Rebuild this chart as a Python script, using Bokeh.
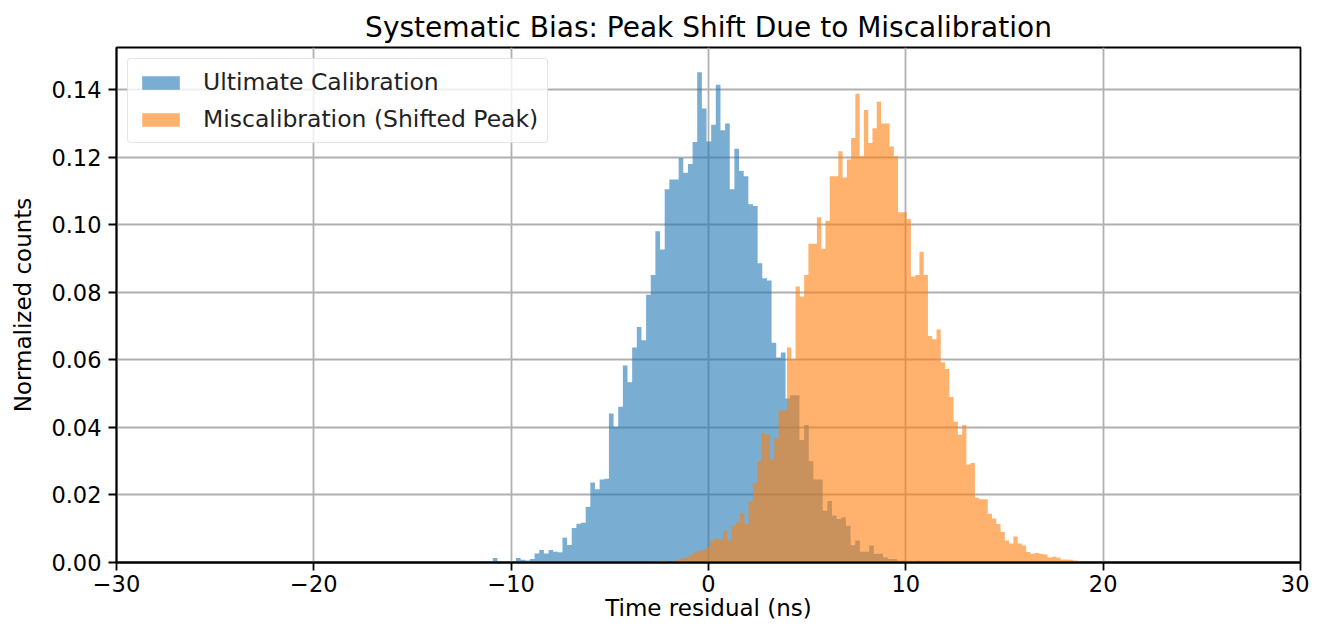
from bokeh.plotting import figure
from bokeh.models import Range1d, FixedTicker, CustomJSTickFormatter, Legend, LegendItem
from bokeh.embed import file_html
from bokeh.resources import INLINE

# ---- data (normalized histogram heights) ----
blue_label = "Ultimate Calibration"
orange_label = "Miscalibration (Shifted Peak)"

blue_start = -11.64     # first bin edge (ns)
blue_width = 0.2355     # bin width (ns)
blue_counts = [
    0.0003, 0.0003, 0.0003, 0.0013, 0.0, 0.0, 0.0, 0.0, 0.0013, 0.0008,
    0.0006, 0.0010, 0.0027, 0.0037, 0.0027, 0.0037, 0.0032, 0.0030, 0.0073, 0.0052,
    0.0102, 0.0115, 0.0118, 0.0164, 0.0237, 0.0217, 0.0246, 0.0248, 0.0441, 0.0402,
    0.0461, 0.0583, 0.0534, 0.0637, 0.0697, 0.0658, 0.0793, 0.0851, 0.0981, 0.0927,
    0.1105, 0.1134, 0.1134, 0.1198, 0.1154, 0.1180, 0.1245, 0.1452, 0.1344, 0.1247,
    0.1296, 0.1415, 0.1280, 0.1300, 0.1105, 0.1225, 0.1159, 0.1144, 0.1061, 0.1056,
    0.0886, 0.0842, 0.0835, 0.0651, 0.0607, 0.0622, 0.0486, 0.0495, 0.0495, 0.0363,
    0.0407, 0.0300, 0.0246, 0.0246, 0.0153, 0.0182, 0.0139, 0.0129, 0.0134, 0.0109,
    0.0051, 0.0065, 0.0032, 0.0032, 0.0050, 0.0026, 0.0026, 0.0015, 0.0010, 0.0010,
    0.0005, 0.0005, 0.0, 0.0, 0.0005, 0.0, 0.0, 0.0, 0.0, 0.0004,
]

orange_start = -2.728
orange_width = 0.2164
orange_counts = [
    0.0003, 0.0005, 0.0005, 0.0, 0.0003, 0.0008, 0.0012, 0.0015, 0.0023, 0.0030,
    0.0034, 0.0036, 0.0045, 0.0065, 0.0070, 0.0068, 0.0095, 0.0065, 0.0109, 0.0119,
    0.0146, 0.0114, 0.0182, 0.0236, 0.0300, 0.0383, 0.0380, 0.0305, 0.0368, 0.0450,
    0.0451, 0.0637, 0.0602, 0.0817, 0.0788, 0.0851, 0.0944, 0.0944, 0.1022, 0.0929,
    0.1012, 0.1144, 0.1144, 0.1218, 0.1140, 0.1193, 0.1257, 0.1388, 0.1203, 0.1340,
    0.1242, 0.1286, 0.1364, 0.1300, 0.1300, 0.1232, 0.1203, 0.1037, 0.1037, 0.1017,
    0.0847, 0.0851, 0.0920, 0.0851, 0.0671, 0.0661, 0.0690, 0.0593, 0.0573, 0.0490,
    0.0417, 0.0378, 0.0407, 0.0290, 0.0295, 0.0192, 0.0187, 0.0187, 0.0144, 0.0130,
    0.0114, 0.0090, 0.0065, 0.0056, 0.0077, 0.0056, 0.0050, 0.0031, 0.0026, 0.0028,
    0.0026, 0.0024, 0.0015, 0.0017, 0.0015, 0.0009, 0.0009, 0.0008, 0.0006, 0.0004,
]

x_ticks = [-30, -20, -10, 0, 10, 20, 30]
y_ticks = [0.0, 0.02, 0.04, 0.06, 0.08, 0.10, 0.12, 0.14]

title_text = "Systematic Bias: Peak Shift Due to Miscalibration"
x_label = "Time residual (ns)"
y_label = "Normalized counts"

# ---- figure ----
FONT = "DejaVu Sans"
p = figure(width=1309, height=623, output_backend="svg", toolbar_location=None,
           x_range=Range1d(-30, 30), y_range=Range1d(0, 0.1525),
           min_border_left=116, min_border_right=9, min_border_top=47, min_border_bottom=59)

p.title.text = title_text
p.title.align = "center"
p.title.text_font = FONT
p.title.text_font_size = "28px"
p.title.text_font_style = "normal"
p.title.text_color = "black"
p.title.standoff = 8


def step_outline(start, width, counts):
    """Histogram outline (stepped polygon) from bin start, width and heights."""
    xs, ys = [start], [0.0]
    for i, c in enumerate(counts):
        l = start + width * i
        r = l + width
        xs += [l, r]
        ys += [c, c]
    xs.append(start + width * len(counts))
    ys.append(0.0)
    return xs, ys


bx, by = step_outline(blue_start, blue_width, blue_counts)
ox, oy = step_outline(orange_start, orange_width, orange_counts)

r_blue = p.patch(x=bx, y=by, fill_color="#1f77b4", fill_alpha=0.6, line_color=None)
r_orange = p.patch(x=ox, y=oy, fill_color="#ff7f0e", fill_alpha=0.6, line_color=None)

legend = Legend(items=[LegendItem(label=blue_label, renderers=[r_blue]),
                       LegendItem(label=orange_label, renderers=[r_orange])],
                location="top_left")
legend.label_text_font = FONT
legend.label_text_font_size = "23.5px"
legend.label_text_color = "#222222"
legend.label_height = 24
legend.glyph_width = 47
legend.glyph_height = 17
legend.label_standoff = 19
legend.padding = 9
legend.spacing = 9
legend.margin = 11
legend.border_line_color = "#cccccc"
legend.border_line_width = 1.5
legend.border_radius = 4
legend.background_fill_alpha = 0.8
p.add_layout(legend)

# grid
p.xgrid.ticker = FixedTicker(ticks=x_ticks)
p.ygrid.ticker = FixedTicker(ticks=y_ticks)
for g in (p.xgrid, p.ygrid):
    g.grid_line_color = "#b0b0b0"
    g.grid_line_width = 1.8

p.outline_line_color = "black"
p.outline_line_width = 1.8
p.outline_line_alpha = 1.0

p.xaxis.ticker = FixedTicker(ticks=x_ticks)
p.yaxis.ticker = FixedTicker(ticks=y_ticks)
p.xaxis.formatter = CustomJSTickFormatter(code="return tick < 0 ? '\\u2212' + (-tick) : String(tick);")
p.yaxis.formatter = CustomJSTickFormatter(code="return tick.toFixed(2);")

for ax in (p.xaxis[0], p.yaxis[0]):
    ax.axis_line_color = "black"
    ax.axis_line_width = 1.8
    ax.major_tick_line_width = 1.8
    ax.major_tick_out = 8
    ax.major_tick_in = 0
    ax.minor_tick_out = 0
    ax.minor_tick_in = 0
    ax.major_label_text_font = FONT
    ax.major_label_text_font_size = "22.5px"
    ax.major_label_text_color = "black"
    ax.axis_label_text_font = FONT
    ax.axis_label_text_font_size = "23px"
    ax.axis_label_text_font_style = "normal"
    ax.axis_label_text_color = "black"

p.xaxis.major_label_standoff = 4
p.yaxis.major_label_standoff = 7
p.xaxis.axis_label = x_label
p.yaxis.axis_label = y_label
p.xaxis.axis_label_standoff = 0
p.yaxis.axis_label_standoff = 12

open("out.html", "w").write(file_html(p, INLINE))
